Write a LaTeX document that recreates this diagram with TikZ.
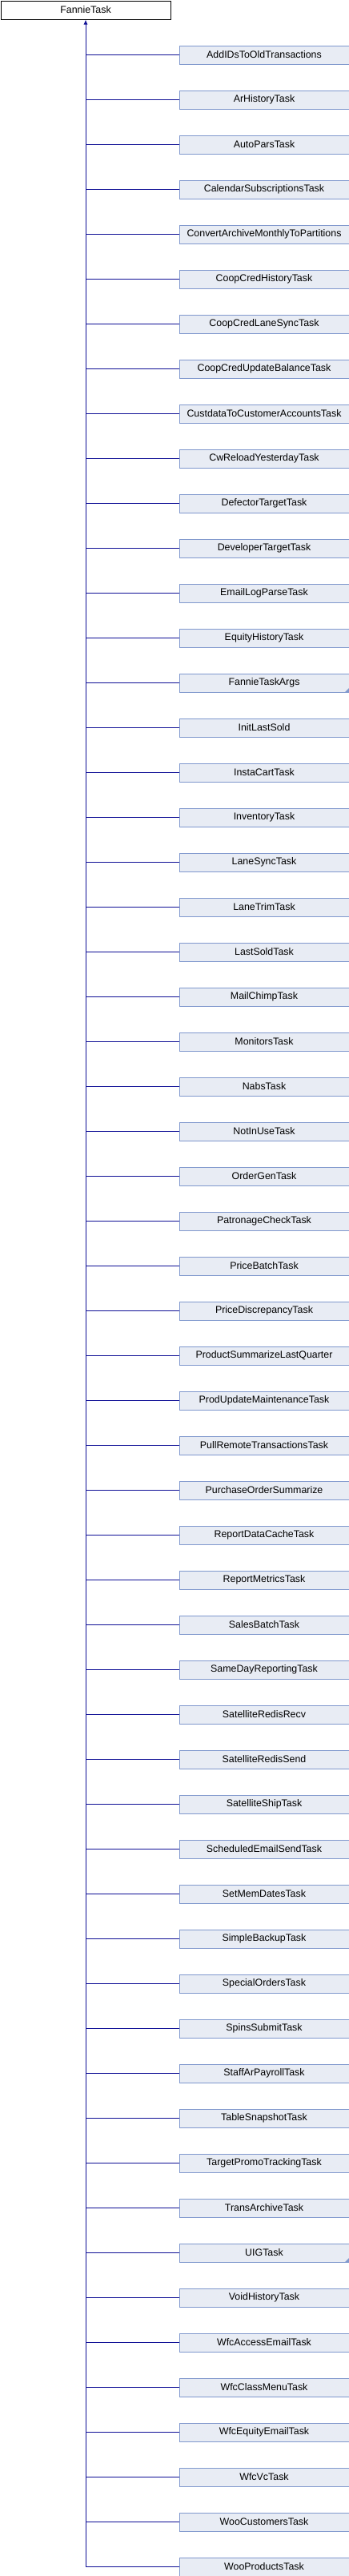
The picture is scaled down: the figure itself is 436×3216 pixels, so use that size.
\documentclass[tikz,border=0pt]{standalone}
\usepackage{fontspec}
\setmainfont{Liberation Sans}
\usetikzlibrary{arrows.meta}
\definecolor{edgecol}{RGB}{16,16,150}
\definecolor{boxfill}{RGB}{232,236,244}
\definecolor{boxline}{RGB}{128,152,205}
\tikzset{
  basebox/.style={draw=black, fill=white, line width=1pt, minimum width=212pt, minimum height=23pt, inner sep=0pt, anchor=north west, font=\fontsize{12.4}{14}\selectfont},
  childbox/.style={draw=boxline, fill=boxfill, line width=1pt, minimum width=212pt, minimum height=23pt, inner sep=0pt, anchor=north west, font=\fontsize{12.4}{14}\selectfont},
  edge/.style={draw=edgecol, line width=1pt},
  moremark/.style={fill=boxline, draw=none}
}
\begin{document}
\begin{tikzpicture}[x=1pt,y=-1pt]
\useasboundingbox (0,0) rectangle (436,3216);
\node[basebox] (base) at (0.5,0.5) {FannieTask};
\foreach \name [count=\i] in {AddIDsToOldTransactions,ArHistoryTask,AutoParsTask,CalendarSubscriptionsTask,ConvertArchiveMonthlyToPartitions,CoopCredHistoryTask,CoopCredLaneSyncTask,CoopCredUpdateBalanceTask,CustdataToCustomerAccountsTask,CwReloadYesterdayTask,DefectorTargetTask,DeveloperTargetTask,EmailLogParseTask,EquityHistoryTask,FannieTaskArgs,InitLastSold,InstaCartTask,InventoryTask,LaneSyncTask,LaneTrimTask,LastSoldTask,MailChimpTask,MonitorsTask,NabsTask,NotInUseTask,OrderGenTask,PatronageCheckTask,PriceBatchTask,PriceDiscrepancyTask,ProductSummarizeLastQuarter,ProdUpdateMaintenanceTask,PullRemoteTransactionsTask,PurchaseOrderSummarize,ReportDataCacheTask,ReportMetricsTask,SalesBatchTask,SameDayReportingTask,SatelliteRedisRecv,SatelliteRedisSend,SatelliteShipTask,ScheduledEmailSendTask,SetMemDatesTask,SimpleBackupTask,SpecialOrdersTask,SpinsSubmitTask,StaffArPayrollTask,TableSnapshotTask,TargetPromoTrackingTask,TransArchiveTask,UIGTask,VoidHistoryTask,WfcAccessEmailTask,WfcClassMenuTask,WfcEquityEmailTask,WfcVcTask,WooCustomersTask,WooProductsTask}{
  \node[childbox] (c\i) at (223.5,{56.5+56*(\i-1)}) {\name};
  \draw[edge] (c\i.west) -- (c\i.west -| base.south);
}
\draw[edge,{Latex[length=6pt,width=5pt]}-] (base.south) -- (c57.west -| base.south);
\fill[moremark] ([shift={(-0.5,-0.5)}]c15.south east) -- ++(-5,0) -- ++(5,-5) -- cycle;
\fill[moremark] ([shift={(-0.5,-0.5)}]c50.south east) -- ++(-5,0) -- ++(5,-5) -- cycle;
\end{tikzpicture}
\end{document}
